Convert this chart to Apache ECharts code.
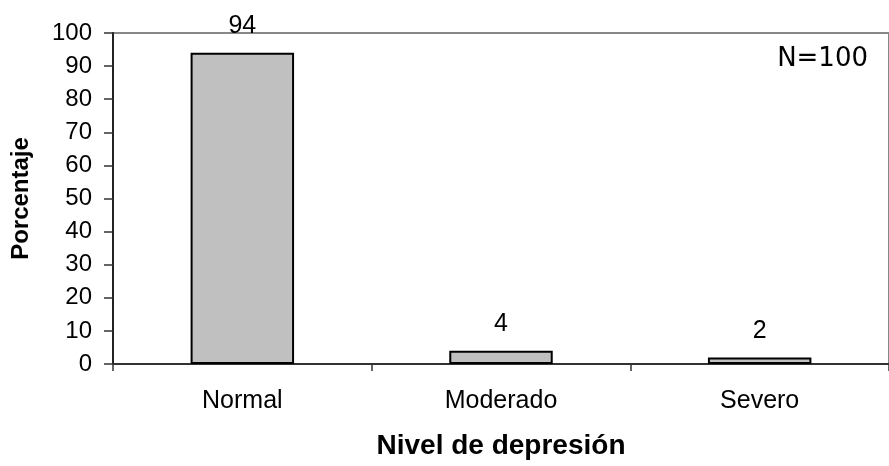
<!DOCTYPE html>
<html>
<head>
<meta charset="utf-8">
<script src="https://cdn.jsdelivr.net/npm/echarts@6/dist/echarts.min.js"></script>
<style>
html,body{margin:0;padding:0;background:#fff;}
#chart{width:889px;height:466px;}
</style>
</head>
<body>
<div id="chart"></div>
<script>
const categories = ['Normal', 'Moderado', 'Severo'];
const percentages = [94, 4, 2];
const yTicks = [0, 10, 20, 30, 40, 50, 60, 70, 80, 90, 100];
const xTitle = 'Nivel de depresión';
const yTitle = 'Porcentaje';
const note = 'N=100';

const chart = echarts.init(document.getElementById('chart'));
const font = '"Liberation Sans", Arial, sans-serif';
chart.setOption({
  animation: false,
  backgroundColor: '#fff',
  grid: { left: 113, top: 33, right: -5, bottom: 102, containLabel: false,
          show: true, borderColor: '#888', borderWidth: 2, backgroundColor: 'transparent' },
  title: {
    text: note, right: 16, top: 41,
    textStyle: { fontFamily: '"DejaVu Sans", Verdana, sans-serif', fontSize: 26, fontWeight: 'normal', color: '#000' }
  },
  xAxis: {
    type: 'category', data: categories,
    name: xTitle, nameLocation: 'middle', nameGap: 68,
    nameTextStyle: { fontFamily: font, fontSize: 28, fontWeight: 'bold', color: '#000' },
    axisLine: { lineStyle: { color: '#333', width: 2 } },
    axisTick: { show: true, length: 7, lineStyle: { color: '#333', width: 1.5 }, alignWithLabel: false },
    axisLabel: { fontFamily: font, fontSize: 25, color: '#000', margin: 25 },
    splitLine: { show: false }
  },
  yAxis: {
    type: 'value', min: 0, max: 100, interval: 10,
    name: yTitle, nameLocation: 'middle', nameGap: 80, nameRotate: 90,
    nameTextStyle: { fontFamily: font, fontSize: 24, fontWeight: 'bold', color: '#000' },
    axisLine: { show: true, lineStyle: { color: '#222', width: 2 } },
    axisTick: { show: true, length: 9, lineStyle: { color: '#333', width: 1.5 } },
    axisLabel: { fontFamily: font, fontSize: 24, color: '#000', margin: 21,
      formatter: v => yTicks.includes(v) ? String(v) : '' },
    splitLine: { show: false }
  },
  series: [{
    type: 'bar', data: percentages, barWidth: '40%',
    itemStyle: { color: '#c0c0c0', borderColor: '#000', borderWidth: 2 },
    label: { show: true, position: 'top', distance: 14, fontFamily: font, fontSize: 25, color: '#000' }
  }]
});
</script>
</body>
</html>
